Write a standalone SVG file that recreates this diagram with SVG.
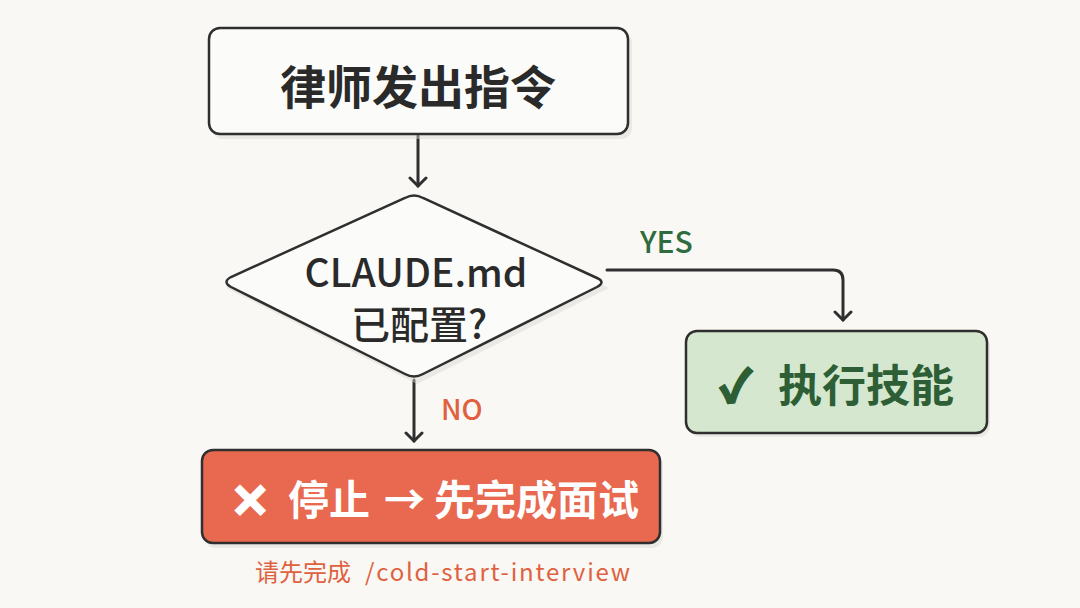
<svg xmlns="http://www.w3.org/2000/svg" width="1080" height="608" viewBox="0 0 1080 608">
<defs>
<marker id="arr" viewBox="0 0 20 20" refX="10" refY="10" markerWidth="20" markerHeight="20" markerUnits="userSpaceOnUse" orient="auto">
<path d="M2,2 L10,10 L2,18" fill="none" stroke="#2f2f2f" stroke-width="3" stroke-linecap="round" stroke-linejoin="round"/>
</marker>
<style>
.lbl{font-family:"Noto Sans CJK SC","Noto Sans",sans-serif;dominant-baseline:central}
.mid{text-anchor:middle}
.node{stroke:#2f2f2f;stroke-width:2.5}
.shadow{fill:#d9d8d2;opacity:0.45}
.conn{fill:none;stroke:#2f2f2f;stroke-width:3;stroke-linecap:round;stroke-linejoin:round}
</style>
</defs>
<rect width="1080" height="608" fill="#f9f8f4"/>

<g id="connectors">
<path class="conn" d="M418,136 V186" marker-end="url(#arr)"/>
<path class="conn" d="M607,270 H833 Q843,270 843,280 V320" marker-end="url(#arr)"/>
<path class="conn" d="M414,380 V441" marker-end="url(#arr)"/>
<text class="lbl" x="640" y="240" font-size="30" font-weight="500" fill="#2e6b3e">YES</text>
<text class="lbl" x="441" y="408" font-size="28" font-weight="500" fill="#e0613f">NO</text>
</g>

<g id="start">
<rect class="shadow" x="212" y="32" width="420" height="107" rx="11"/>
<rect class="node" x="209" y="28" width="419" height="106" rx="11" fill="#fbfbf9"/>
<text class="lbl mid" x="418" y="84" font-size="46" font-weight="600" fill="#2a2a2a">律师发出指令</text>
</g>

<g id="decision">
<path class="shadow" d="M417,198 L609,288 L417,384 L226,288 Z"/>
<path class="node" d="M405,198 Q414,193 423,198 L597,278 Q606,282 597,287 L423,374 Q414,379 405,374 L231,287 Q222,282 231,277 Z" fill="#fbfbf9"/>
<text class="lbl mid" x="416" y="270" font-size="39" font-weight="500" fill="#2a2a2a">CLAUDE.md</text>
<text class="lbl mid" x="419" y="322" font-size="39" font-weight="500" fill="#2a2a2a">已配置?</text>
</g>

<g id="execute">
<rect class="shadow" x="689" y="335" width="301" height="102" rx="11"/>
<rect class="node" x="686" y="331" width="301" height="102" rx="11" fill="#d5e8cf"/>
<text class="lbl" x="720" y="383" font-size="44" font-weight="600" fill="#2d5e35"><tspan stroke="#2d5e35" stroke-width="2.5">✓</tspan><tspan x="778">执行技能</tspan></text>
</g>

<g id="stop">
<rect class="shadow" x="205" y="454" width="458" height="94" rx="11"/>
<rect class="node" x="202" y="450" width="458" height="93" rx="11" fill="#e8694f" stroke="#3a2a25"/>
<text class="lbl" x="231" y="497" font-size="41" font-weight="600" fill="#ffffff"><tspan font-size="46" stroke="#ffffff" stroke-width="2">✕</tspan><tspan x="288">停止</tspan><tspan x="384">→</tspan><tspan x="434">先完成面试</tspan></text>
<text class="lbl" x="255" y="570" font-size="24" font-weight="400" fill="#e0613f">请先完成<tspan x="365" textLength="265" lengthAdjust="spacing">/cold-start-interview</tspan></text>
</g>
</svg>
